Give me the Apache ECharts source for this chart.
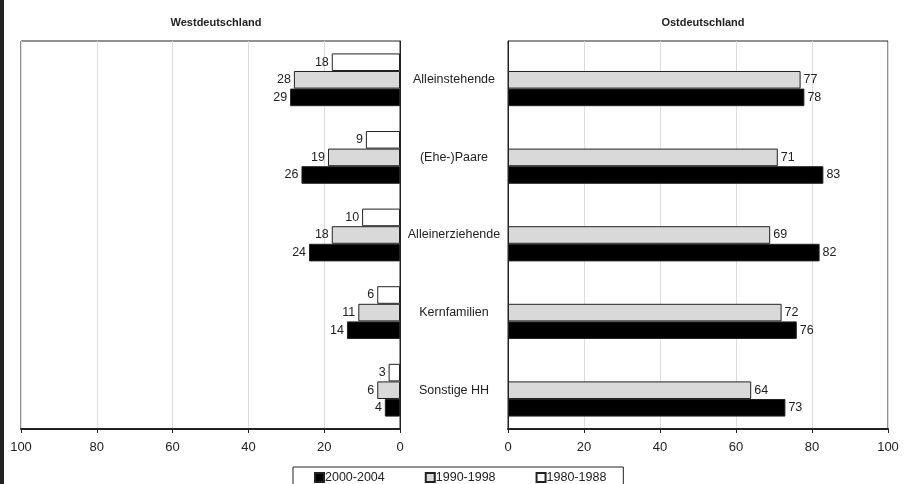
<!DOCTYPE html>
<html lang="de">
<head>
    <meta charset="UTF-8">
    <title>West- und Ostdeutschland</title>
</head>
<script src="https://cdn.jsdelivr.net/npm/echarts@6/dist/echarts.min.js"></script>
<body style="margin:0">
<div id="main" style="height: 484px;width: 904px"></div>
<script type="text/javascript">
    // Daten
    var kategorien = ['Alleinstehende', '(Ehe-)Paare', 'Alleinerziehende', 'Kernfamilien', 'Sonstige HH']
    var perioden = ['1980-1988', '1990-1998', '2000-2004']
    var west1980 = [18, 9, 10, 6, 3]
    var west1990 = [28, 19, 18, 11, 6]
    var west2000 = [29, 26, 24, 14, 4]
    var ost1980 = [null, null, null, null, null]
    var ost1990 = [77, 71, 69, 72, 64]
    var ost2000 = [78, 83, 82, 76, 73]

    var farben = {'1980-1988': '#ffffff', '1990-1998': '#d9d9d9', '2000-2004': '#000000'}
    var fontFam = 'Liberation Sans, Arial, sans-serif'

    function balken(name, data, idx, seite) {
        return {
            name: name,
            type: 'bar',
            xAxisIndex: idx,
            yAxisIndex: idx,
            data: data,
            barGap: 0,
            barCategoryGap: '32%',
            itemStyle: {color: farben[name], borderColor: '#222', borderWidth: 1},
            label: {
                show: true,
                position: seite,
                distance: 3,
                color: '#222',
                fontSize: 12.5,
                fontFamily: fontFam
            }
        }
    }

    function xAchse(idx, inverse) {
        return {
            type: 'value',
            gridIndex: idx,
            min: 0,
            max: 100,
            interval: 20,
            inverse: inverse,
            axisLine: {show: true, lineStyle: {color: '#222', width: 2}},
            axisTick: {show: true, length: 4, lineStyle: {color: '#222'}},
            axisLabel: {color: '#222', fontSize: 13, fontFamily: fontFam, margin: 12},
            splitLine: {show: true, lineStyle: {color: '#dcdcdc'}}
        }
    }

    var myChart = echarts.init(document.getElementById('main'))
    var option = {
        backgroundColor: '#fff',
        animation: false,
        graphic: [{type: 'rect', left: 0, top: 0, shape: {width: 4, height: 484}, style: {fill: '#222'}}],
        title: [
            {text: 'Westdeutschland', left: 211, top: 12, textAlign: 'center',
                textStyle: {fontSize: 11, fontWeight: 'bold', color: '#222', fontFamily: fontFam}},
            {text: 'Ostdeutschland', left: 698, top: 12, textAlign: 'center',
                textStyle: {fontSize: 11, fontWeight: 'bold', color: '#222', fontFamily: fontFam}}
        ],
        legend: {
            data: ['2000-2004', '1990-1998', '1980-1988'],
            left: 293,
            top: 467,
            padding: [4, 17, 12, 21],
            borderColor: '#222',
            borderWidth: 1,
            itemWidth: 9,
            itemHeight: 9,
            itemGap: 40,
            icon: 'rect',
            textStyle: {fontSize: 12.5, color: '#222', fontFamily: fontFam, padding: [0, 0, 0, -4]}
        },
        grid: [
            {left: 21, top: 41, width: 379, height: 388, show: true, borderColor: '#222', borderWidth: 1},
            {left: 508, top: 41, width: 380, height: 388, show: true, borderColor: '#222', borderWidth: 1}
        ],
        xAxis: [xAchse(0, true), xAchse(1, false)],
        yAxis: [
            {type: 'category', gridIndex: 0, data: kategorien, inverse: true, position: 'right',
                axisLine: {show: true, lineStyle: {color: '#222'}}, axisTick: {show: false}, axisLabel: {show: false}},
            {type: 'category', gridIndex: 1, data: kategorien, inverse: true,
                axisLine: {show: true, lineStyle: {color: '#222'}}, axisTick: {show: false},
                axisLabel: {align: 'center', margin: 54, color: '#222', fontSize: 12.5, fontFamily: fontFam}}
        ],
        series: [
            balken(perioden[0], west1980, 0, 'left'),
            balken(perioden[1], west1990, 0, 'left'),
            balken(perioden[2], west2000, 0, 'left'),
            balken(perioden[0], ost1980, 1, 'right'),
            balken(perioden[1], ost1990, 1, 'right'),
            balken(perioden[2], ost2000, 1, 'right')
        ]
    }
    myChart.setOption(option)
</script>
</body>
</html>
